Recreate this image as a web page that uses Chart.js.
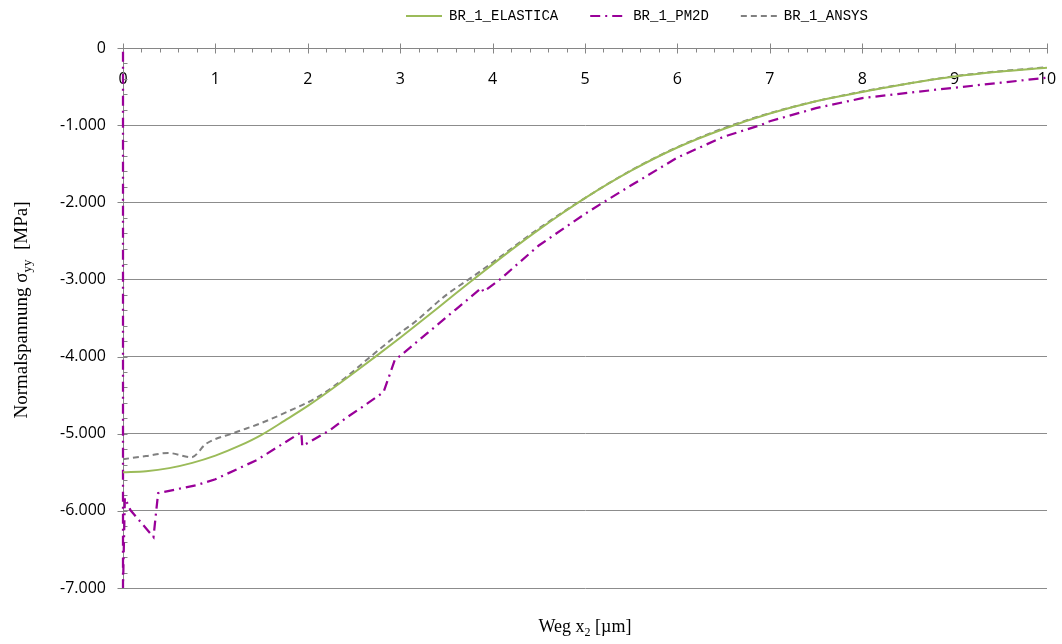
<!DOCTYPE html>
<html>
<head>
<meta charset="utf-8">
<title>Normalspannung BR_1</title>
<script src="https://cdn.jsdelivr.net/npm/chart.js@4.4.1/dist/chart.umd.min.js"></script>
<style>
  html, body { margin: 0; padding: 0; background: #fff; }
</style>
</head>
<body>
<canvas id="stressChart" width="1062" height="644"></canvas>
<script>
// Werte (x in µm, y in MPa)
var elasticaX = [0, 0.25, 0.5, 0.75, 1, 1.25, 1.5, 1.75, 2, 2.25, 2.5, 2.75, 3, 3.25, 3.5, 3.75, 4, 4.25, 4.5, 4.75, 5, 5.5, 6, 6.5, 7, 7.5, 8, 8.5, 9, 9.5, 10];
var elasticaY = [-5500, -5486, -5446, -5378, -5284, -5162, -5014, -4830, -4640, -4430, -4210, -3985, -3755, -3520, -3280, -3040, -2805, -2575, -2355, -2145, -1945, -1590, -1290, -1050, -850, -690, -570, -460, -370, -305, -255];

var pm2dX = [0, 0, 0.02, 0.08, 0.33, 0.38, 0.8, 1.0, 1.45, 1.93, 1.94, 2.24, 2.42, 2.57, 2.82, 2.94, 3.03, 3.3, 3.6, 3.88, 3.9, 4.08, 4.5, 5, 5.2, 5.5, 6, 6.5, 6.9, 7, 7.5, 8, 8.5, 9, 9.5, 10];
var pm2dY = [-50, -7000, -5830, -5990, -6340, -5770, -5665, -5590, -5340, -4980, -5160, -4955, -4790, -4670, -4460, -4050, -3960, -3690, -3390, -3110, -3160, -3000, -2560, -2150, -2000, -1780, -1420, -1150, -1000, -950, -780, -650, -580, -515, -450, -385];

var ansysX = [0, 0.25, 0.49, 0.74, 0.9, 1.2, 1.5, 1.77, 2.1, 2.4, 2.67, 3, 3.14, 3.5, 3.79, 4, 4.5, 5, 5.5, 6, 6.5, 7, 7.5, 8, 8.5, 9, 9.5, 10];
var ansysY = [-5330, -5290, -5250, -5305, -5130, -4990, -4860, -4720, -4530, -4280, -4010, -3690, -3570, -3200, -2960, -2780, -2340, -1945, -1585, -1285, -1040, -845, -690, -565, -460, -365, -300, -250];

var xTickValues = [0, 1, 2, 3, 4, 5, 6, 7, 8, 9, 10];
var yTickValues = [0, -1000, -2000, -3000, -4000, -5000, -6000, -7000];
var xMinorStep = 0.2;
var yMinorStep = 200;

function toPoints(xs, ys) {
    return xs.map(function(x, i) { return {x: x, y: ys[i]}; });
}

// deutsche Tausendertrennung: -1.000
function formatDe(v) {
    var s = Math.abs(v).toString().replace(/\B(?=(\d{3})+(?!\d))/g, '.');
    return (v < 0 ? '-' : '') + s;
}

var axisColor = '#868686';

var axisMarks = {
    id: 'axisMarks',
    beforeDatasetsDraw: function(chart) {
        var ctx = chart.ctx, xs = chart.scales.x, ys = chart.scales.y;
        var ay = Math.round(ys.getPixelForValue(0)) + 0.5;
        var ax = Math.round(xs.getPixelForValue(0)) + 0.5;
        ctx.save();
        ctx.strokeStyle = axisColor;
        ctx.lineWidth = 1;
        ctx.beginPath();
        var v, p;
        for (v = xs.min; v <= xs.max + 1e-9; v += xMinorStep) {
            p = Math.round(xs.getPixelForValue(v)) + 0.5;
            ctx.moveTo(p, ay);
            ctx.lineTo(p, ay + 4);
        }
        xTickValues.forEach(function(t) {
            p = Math.round(xs.getPixelForValue(t)) + 0.5;
            ctx.moveTo(p, ay - 5);
            ctx.lineTo(p, ay + 5);
        });
        for (v = ys.max; v >= ys.min - 1e-9; v -= yMinorStep) {
            p = Math.round(ys.getPixelForValue(v)) + 0.5;
            ctx.moveTo(ax, p);
            ctx.lineTo(ax + 4, p);
        }
        yTickValues.forEach(function(t) {
            p = Math.round(ys.getPixelForValue(t)) + 0.5;
            ctx.moveTo(ax - 6, p);
            ctx.lineTo(ax, p);
        });
        ctx.stroke();
        ctx.restore();
    }
};

function drawPieces(ctx, pieces, cx, baseline) {
    var total = 0;
    pieces.forEach(function(pc) {
        ctx.font = pc.font;
        pc.w = ctx.measureText(pc.text).width;
        total += pc.w;
    });
    var x = cx - total / 2;
    pieces.forEach(function(pc) {
        ctx.font = pc.font;
        ctx.fillText(pc.text, x, baseline + (pc.dy || 0));
        x += pc.w;
    });
}

var axisTitles = {
    id: 'axisTitles',
    afterDraw: function(chart) {
        var ctx = chart.ctx, area = chart.chartArea;
        var main = '18px "Liberation Serif"', sub = '12px "Liberation Serif"';
        ctx.save();
        ctx.fillStyle = '#000';
        ctx.textBaseline = 'alphabetic';
        ctx.textAlign = 'left';
        drawPieces(ctx, [
            {text: 'Weg x', font: main},
            {text: '2', font: sub, dy: 4},
            {text: ' [\u00b5m]', font: main}
        ], (area.left + area.right) / 2, 632);
        ctx.translate(27, 310);
        ctx.rotate(-Math.PI / 2);
        drawPieces(ctx, [
            {text: 'Normalspannung \u03c3', font: '19px "Liberation Serif"'},
            {text: 'yy', font: '13px "Liberation Serif"', dy: 4},
            {text: '  [MPa]', font: '19px "Liberation Serif"'}
        ], 0, 0);
        ctx.restore();
    }
};

// Legende wie im Original rechts oben verschieben
var legendPlace = {
    id: 'legendPlace',
    afterLayout: function(chart) {
        var lg = chart.legend;
        if (!lg) return;
        var dx = 374 - lg.left, dy = -23 - lg.top;
        lg.left += dx; lg.right += dx;
        lg.top += dy; lg.bottom += dy;
    }
};

var ctx = document.getElementById('stressChart');
new Chart(ctx, {
    type: 'line',
    data: {
        datasets: [{
            label: 'BR_1_ELASTICA',
            data: toPoints(elasticaX, elasticaY),
            borderColor: '#9BBB59',
            borderWidth: 2,
            cubicInterpolationMode: 'monotone',
            pointRadius: 0,
            clip: 4
        }, {
            label: 'BR_1_PM2D',
            data: toPoints(pm2dX, pm2dY),
            borderColor: '#990099',
            borderWidth: 2.25,
            borderDash: [10, 5, 2, 5],
            tension: 0,
            pointRadius: 0,
            clip: 4
        }, {
            label: 'BR_1_ANSYS',
            data: toPoints(ansysX, ansysY),
            borderColor: '#808080',
            borderWidth: 2,
            borderDash: [6, 4],
            cubicInterpolationMode: 'monotone',
            pointRadius: 0,
            clip: 4
        }]
    },
    options: {
        responsive: false,
        animation: false,
        layout: {
            padding: {left: 0, right: 15, top: 0, bottom: 56}
        },
        plugins: {
            legend: {
                position: 'top',
                align: 'start',
                maxHeight: 48,
                labels: {
                    usePointStyle: true,
                    pointStyle: 'line',
                    pointStyleWidth: 36,
                    padding: 32,
                    color: '#000',
                    font: {family: '"Liberation Mono"', size: 14},
                    generateLabels: function(chart) {
                        var items = Chart.defaults.plugins.legend.labels.generateLabels(chart);
                        items.forEach(function(it) {
                            var ds = chart.data.datasets[it.datasetIndex];
                            it.lineDash = ds.borderDash || [];
                            it.lineWidth = 2;
                            it.strokeStyle = ds.borderColor;
                        });
                        return items;
                    }
                }
            },
            tooltip: {enabled: false}
        },
        scales: {
            x: {
                type: 'linear',
                position: {y: 0},
                min: 0,
                max: 10,
                afterBuildTicks: function(s) {
                    s.ticks = xTickValues.map(function(v) { return {value: v}; });
                },
                afterFit: function(s) {
                    s.paddingLeft = 0;
                    s.paddingRight = 0;
                },
                ticks: {
                    color: '#000',
                    padding: 22,
                    maxRotation: 0,
                    autoSkip: false,
                    font: {family: '"Open Sans"', size: 16}
                },
                grid: {drawOnChartArea: false, drawTicks: false},
                border: {color: axisColor, width: 1}
            },
            y: {
                type: 'linear',
                position: 'left',
                min: -7000,
                max: 0,
                afterBuildTicks: function(s) {
                    s.ticks = yTickValues.map(function(v) { return {value: v}; });
                },
                afterFit: function(s) {
                    s.width = 123;
                    s.paddingTop = 0;
                    s.paddingBottom = 0;
                },
                ticks: {
                    color: '#000',
                    padding: 17,
                    font: {family: '"Open Sans"', size: 16},
                    callback: function(v) { return formatDe(v); }
                },
                grid: {color: '#8c8c8c', drawTicks: false},
                border: {color: axisColor, width: 1}
            }
        }
    },
    plugins: [axisMarks, axisTitles, legendPlace]
});
</script>
</body>
</html>
